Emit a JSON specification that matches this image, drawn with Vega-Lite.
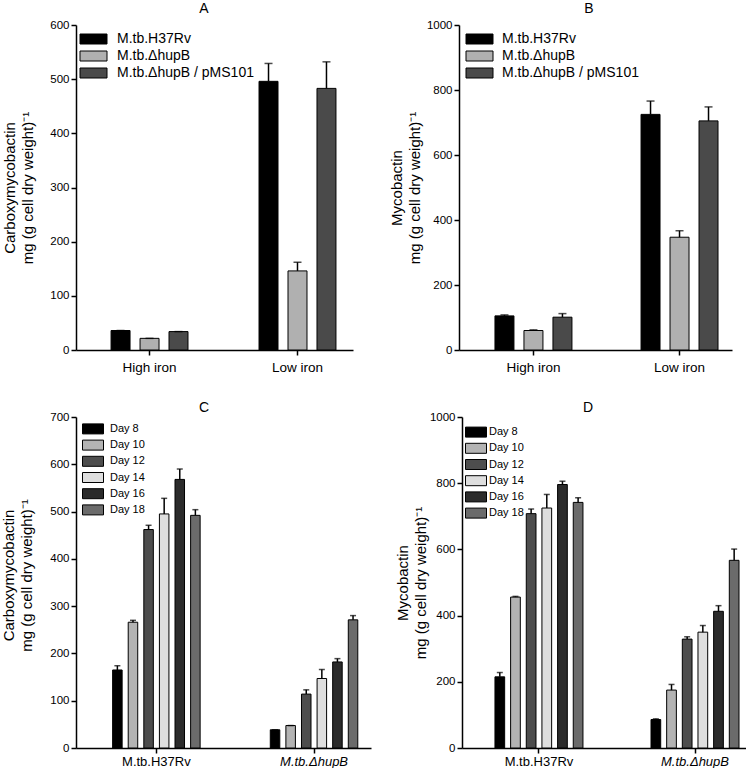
{
  "$schema": "https://vega.github.io/schema/vega-lite/v6.json",
  "padding": {"left": 1, "top": 2, "right": 0, "bottom": 0},
  "spacing": 27,
  "resolve": {"scale": {"color": "independent", "xOffset": "independent"}, "legend": {"color": "independent"}},
  "datasets": {
    "A": [
      {"group": "High iron", "series": "M.tb.H37Rv", "value": 36, "upper": 36},
      {"group": "High iron", "series": "M.tb.ΔhupB", "value": 21.5, "upper": 21.5},
      {"group": "High iron", "series": "M.tb.ΔhupB / pMS101", "value": 34, "upper": 34},
      {"group": "Low iron", "series": "M.tb.H37Rv", "value": 496, "upper": 529},
      {"group": "Low iron", "series": "M.tb.ΔhupB", "value": 146, "upper": 162},
      {"group": "Low iron", "series": "M.tb.ΔhupB / pMS101", "value": 483, "upper": 532}
    ],
    "B": [
      {"group": "High iron", "series": "M.tb.H37Rv", "value": 105, "upper": 108},
      {"group": "High iron", "series": "M.tb.ΔhupB", "value": 60, "upper": 62},
      {"group": "High iron", "series": "M.tb.ΔhupB / pMS101", "value": 101, "upper": 112},
      {"group": "Low iron", "series": "M.tb.H37Rv", "value": 725, "upper": 766},
      {"group": "Low iron", "series": "M.tb.ΔhupB", "value": 347, "upper": 367},
      {"group": "Low iron", "series": "M.tb.ΔhupB / pMS101", "value": 705, "upper": 748}
    ],
    "C": [
      {"group": "M.tb.H37Rv", "series": "Day 8", "value": 165, "upper": 174},
      {"group": "M.tb.H37Rv", "series": "Day 10", "value": 266, "upper": 270},
      {"group": "M.tb.H37Rv", "series": "Day 12", "value": 462, "upper": 471},
      {"group": "M.tb.H37Rv", "series": "Day 14", "value": 495, "upper": 528},
      {"group": "M.tb.H37Rv", "series": "Day 16", "value": 568, "upper": 590},
      {"group": "M.tb.H37Rv", "series": "Day 18", "value": 492, "upper": 504},
      {"group": "M.tb.ΔhupB", "series": "Day 8", "value": 38.5, "upper": 38.5},
      {"group": "M.tb.ΔhupB", "series": "Day 10", "value": 47.5, "upper": 47.5},
      {"group": "M.tb.ΔhupB", "series": "Day 12", "value": 114, "upper": 123},
      {"group": "M.tb.ΔhupB", "series": "Day 14", "value": 147, "upper": 166},
      {"group": "M.tb.ΔhupB", "series": "Day 16", "value": 182, "upper": 189},
      {"group": "M.tb.ΔhupB", "series": "Day 18", "value": 271, "upper": 280}
    ],
    "D": [
      {"group": "M.tb.H37Rv", "series": "Day 8", "value": 215, "upper": 228},
      {"group": "M.tb.H37Rv", "series": "Day 10", "value": 456, "upper": 458},
      {"group": "M.tb.H37Rv", "series": "Day 12", "value": 708, "upper": 722},
      {"group": "M.tb.H37Rv", "series": "Day 14", "value": 725, "upper": 766},
      {"group": "M.tb.H37Rv", "series": "Day 16", "value": 796, "upper": 806},
      {"group": "M.tb.H37Rv", "series": "Day 18", "value": 742, "upper": 756},
      {"group": "M.tb.ΔhupB", "series": "Day 8", "value": 86, "upper": 88},
      {"group": "M.tb.ΔhupB", "series": "Day 10", "value": 175, "upper": 192},
      {"group": "M.tb.ΔhupB", "series": "Day 12", "value": 329, "upper": 336},
      {"group": "M.tb.ΔhupB", "series": "Day 14", "value": 350, "upper": 370},
      {"group": "M.tb.ΔhupB", "series": "Day 16", "value": 413, "upper": 430},
      {"group": "M.tb.ΔhupB", "series": "Day 18", "value": 567, "upper": 601}
    ]
  },
  "vconcat": [
    {
      "hconcat": [
        {
          "width": 277, "height": 325,
          "title": {"text": "A", "dx": -10.5, "offset": 3, "frame": "group"},
          "data": {"name": "A"},
          "encoding": {
            "x": {"field": "group", "type": "nominal", "sort": ["High iron", "Low iron"],
              "scale": {"paddingInner": 0.48, "paddingOuter": 0.176, "align": 0.673},
              "axis": {"title": null, "labelAngle": 0, "labelFontSize": 13.5, "labelPadding": 5}},
            "xOffset": {"field": "series", "type": "nominal", "sort": ["M.tb.H37Rv", "M.tb.ΔhupB", "M.tb.ΔhupB / pMS101"],
              "scale": {"paddingInner": 0.345, "paddingOuter": 0}},
            "y": {"field": "value", "type": "quantitative", "scale": {"domain": [0, 600], "nice": false},
              "axis": {"values": [0, 100, 200, 300, 400, 500, 600], "format": "d", "title": ["Carboxymycobactin", "mg (g cell dry weight)⁻¹"], "titleX": -59}}
          },
          "layer": [
            {"mark": {"type": "bar", "stroke": "black", "strokeWidth": 1},
             "encoding": {"color": {"field": "series", "type": "nominal",
               "scale": {"domain": ["M.tb.H37Rv", "M.tb.ΔhupB", "M.tb.ΔhupB / pMS101"], "range": ["#000000", "#b0b0b0", "#4a4a4a"]},
               "legend": {"orient": "none", "legendX": 10.5, "legendY": 7, "title": null, "symbolType": "M-2.7,-1H2.7V1H-2.7Z", "symbolSize": 100, "labelOffset": 16.5, "labelFontSize": 14, "rowPadding": 3}}}},
            {"mark": {"type": "rule", "color": "black", "strokeWidth": 1.5},
             "encoding": {"y2": {"field": "upper"}}},
            {"mark": {"type": "tick", "color": "black", "thickness": 1.5, "size": 8},
             "encoding": {"y": {"field": "upper", "type": "quantitative"}}}
          ]
        },
        {
          "width": 273, "height": 325,
          "title": {"text": "B", "dx": -6.5, "offset": 3, "frame": "group"},
          "data": {"name": "B"},
          "encoding": {
            "x": {"field": "group", "type": "nominal", "sort": ["High iron", "Low iron"],
              "scale": {"paddingInner": 0.473, "paddingOuter": 0.171, "align": 0.72},
              "axis": {"title": null, "labelAngle": 0, "labelFontSize": 13.5, "labelPadding": 5}},
            "xOffset": {"field": "series", "type": "nominal", "sort": ["M.tb.H37Rv", "M.tb.ΔhupB", "M.tb.ΔhupB / pMS101"],
              "scale": {"paddingInner": 0.345, "paddingOuter": 0}},
            "y": {"field": "value", "type": "quantitative", "scale": {"domain": [0, 1000], "nice": false},
              "axis": {"values": [0, 200, 400, 600, 800, 1000], "format": "d", "title": ["Mycobactin", "mg (g cell dry weight)⁻¹"], "titleX": -55}}
          },
          "layer": [
            {"mark": {"type": "bar", "stroke": "black", "strokeWidth": 1},
             "encoding": {"color": {"field": "series", "type": "nominal",
               "scale": {"domain": ["M.tb.H37Rv", "M.tb.ΔhupB", "M.tb.ΔhupB / pMS101"], "range": ["#000000", "#b0b0b0", "#4a4a4a"]},
               "legend": {"orient": "none", "legendX": 13.5, "legendY": 7, "title": null, "symbolType": "M-2.7,-1H2.7V1H-2.7Z", "symbolSize": 100, "labelOffset": 15.5, "labelFontSize": 14, "rowPadding": 3}}}},
            {"mark": {"type": "rule", "color": "black", "strokeWidth": 1.5},
             "encoding": {"y2": {"field": "upper"}}},
            {"mark": {"type": "tick", "color": "black", "thickness": 1.5, "size": 8},
             "encoding": {"y": {"field": "upper", "type": "quantitative"}}}
          ]
        }
      ],
      "spacing": 106,
      "bounds": "flush",
      "resolve": {"scale": {"color": "independent", "xOffset": "independent"}, "legend": {"color": "independent"}}
    },
    {
      "hconcat": [
        {
          "width": 295, "height": 331,
          "title": {"text": "C", "dx": -19.5, "offset": -4, "frame": "group"},
          "data": {"name": "C"},
          "encoding": {
            "x": {"field": "group", "type": "nominal", "sort": ["M.tb.H37Rv", "M.tb.ΔhupB"],
              "scale": {"paddingInner": 0.445, "paddingOuter": 0.158, "align": 0.735},
              "axis": {"title": null, "labelAngle": 0, "labelFontSize": 13, "labelPadding": 2,
                "labelFontStyle": {"condition": {"test": "datum.value === 'M.tb.ΔhupB'", "value": "italic"}, "value": "normal"}}},
            "xOffset": {"field": "series", "type": "nominal", "sort": ["Day 8", "Day 10", "Day 12", "Day 14", "Day 16", "Day 18"],
              "scale": {"paddingInner": 0.39, "paddingOuter": 0}},
            "y": {"field": "value", "type": "quantitative", "scale": {"domain": [0, 700], "nice": false},
              "axis": {"values": [0, 100, 200, 300, 400, 500, 600, 700], "format": "d", "title": ["Carboxymycobactin", "mg (g cell dry weight)⁻¹"], "titleX": -60, "titleY": 158}}
          },
          "layer": [
            {"mark": {"type": "bar", "stroke": "black", "strokeWidth": 1},
             "encoding": {"color": {"field": "series", "type": "nominal",
               "scale": {"domain": ["Day 8", "Day 10", "Day 12", "Day 14", "Day 16", "Day 18"], "range": ["#000000", "#b3b3b3", "#4d4d4d", "#dedede", "#2b2b2b", "#6b6b6b"]},
               "legend": {"orient": "none", "legendX": 11.5, "legendY": 6.4, "title": null, "symbolType": "M-2.1,-1H2.1V1H-2.1Z", "symbolSize": 100, "labelOffset": 11.5, "labelFontSize": 11, "rowPadding": 1.2}}}},
            {"mark": {"type": "rule", "color": "black", "strokeWidth": 1.5},
             "encoding": {"y2": {"field": "upper"}}},
            {"mark": {"type": "tick", "color": "black", "thickness": 1.5, "size": 6},
             "encoding": {"y": {"field": "upper", "type": "quantitative"}}}
          ]
        },
        {
          "width": 284, "height": 331,
          "title": {"text": "D", "dx": -16, "offset": -4, "frame": "group"},
          "data": {"name": "D"},
          "encoding": {
            "x": {"field": "group", "type": "nominal", "sort": ["M.tb.H37Rv", "M.tb.ΔhupB"],
              "scale": {"paddingInner": 0.436, "paddingOuter": 0.128, "align": 0.825},
              "axis": {"title": null, "labelAngle": 0, "labelFontSize": 13, "labelPadding": 2,
                "labelFontStyle": {"condition": {"test": "datum.value === 'M.tb.ΔhupB'", "value": "italic"}, "value": "normal"}}},
            "xOffset": {"field": "series", "type": "nominal", "sort": ["Day 8", "Day 10", "Day 12", "Day 14", "Day 16", "Day 18"],
              "scale": {"paddingInner": 0.38, "paddingOuter": 0}},
            "y": {"field": "value", "type": "quantitative", "scale": {"domain": [0, 1000], "nice": false},
              "axis": {"values": [0, 200, 400, 600, 800, 1000], "format": "d", "title": ["Mycobactin", "mg (g cell dry weight)⁻¹"], "titleX": -52}}
          },
          "layer": [
            {"mark": {"type": "bar", "stroke": "black", "strokeWidth": 1},
             "encoding": {"color": {"field": "series", "type": "nominal",
               "scale": {"domain": ["Day 8", "Day 10", "Day 12", "Day 14", "Day 16", "Day 18"], "range": ["#000000", "#b3b3b3", "#4d4d4d", "#dedede", "#2b2b2b", "#6b6b6b"]},
               "legend": {"orient": "none", "legendX": 8.5, "legendY": 9.6, "title": null, "symbolType": "M-2.1,-1H2.1V1H-2.1Z", "symbolSize": 100, "labelOffset": 7.5, "labelFontSize": 11, "rowPadding": 1.2}}}},
            {"mark": {"type": "rule", "color": "black", "strokeWidth": 1.5},
             "encoding": {"y2": {"field": "upper"}}},
            {"mark": {"type": "tick", "color": "black", "thickness": 1.5, "size": 6},
             "encoding": {"y": {"field": "upper", "type": "quantitative"}}}
          ]
        }
      ],
      "spacing": 91,
      "bounds": "flush",
      "resolve": {"scale": {"color": "independent", "xOffset": "independent"}, "legend": {"color": "independent"}}
    }
  ],
  "config": {
    "font": "Liberation Sans",
    "background": "white",
    "view": {"stroke": null},
    "axis": {"grid": false, "domainColor": "black", "domainWidth": 1.5, "tickColor": "black", "tickWidth": 1.5, "tickSize": 5,
      "labelColor": "black", "titleColor": "black", "titleFontWeight": "normal", "titleFontSize": 15, "titleLineHeight": 18},
    "axisY": {"labelFontSize": 11.5, "labelPadding": 2},
    "title": {"fontSize": 14, "fontWeight": "normal", "color": "black", "anchor": "middle", "font": "Liberation Sans"},
    "legend": {"padding": 0, "symbolStrokeColor": "black", "symbolStrokeWidth": 1, "symbolOpacity": 1, "labelColor": "black", "labelLimit": 300}
  }
}
